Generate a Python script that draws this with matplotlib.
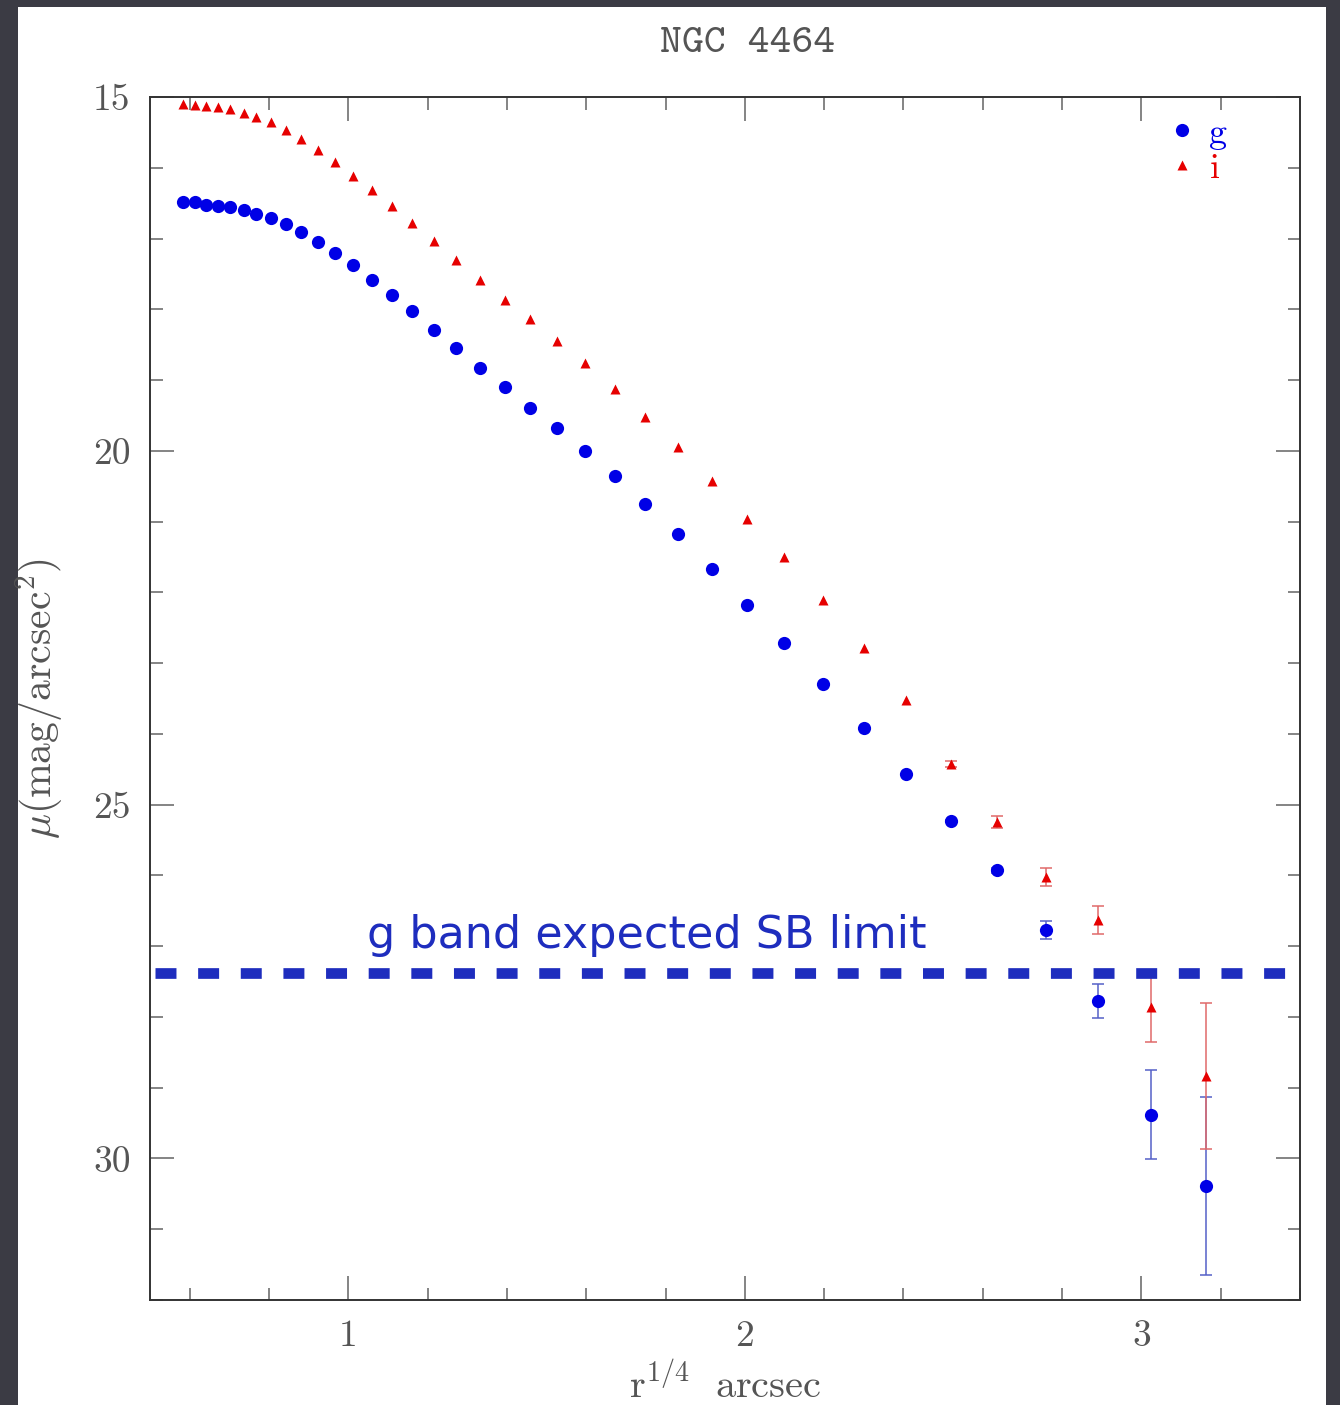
import matplotlib
matplotlib.use("Agg")
import matplotlib.pyplot as plt
from matplotlib.patches import Rectangle
from matplotlib.ticker import MultipleLocator

nan = float('nan')

# r^(1/4) radii (arcsec) shared by both bands
r14 = [0.584, 0.613, 0.642, 0.671, 0.701, 0.737, 0.768, 0.806, 0.843, 0.882,
       0.923, 0.967, 1.013, 1.060, 1.109, 1.161, 1.215, 1.272, 1.331, 1.394,
       1.459, 1.526, 1.597, 1.672, 1.747, 1.831, 1.917, 2.005, 2.098, 2.197,
       2.301, 2.407, 2.520, 2.636, 2.760, 2.891, 3.023, 3.164]

# g band surface brightness + errors (inner errors too small to see -> nan)
mu_g = [16.49, 16.49, 16.52, 16.54, 16.56, 16.60, 16.65, 16.71, 16.80, 16.91,
        17.05, 17.21, 17.38, 17.58, 17.80, 18.03, 18.29, 18.54, 18.83, 19.10,
        19.39, 19.68, 20.00, 20.36, 20.75, 21.18, 21.67, 22.18, 22.72, 23.30,
        23.92, 24.56, 25.23, 25.93, 26.77, 27.78, 29.38, 30.39]
err_g = [nan] * 32 + [0.02, 0.04, 0.13, 0.24, 0.63, 1.26]

# i band surface brightness + errors
mu_i = [15.10, 15.11, 15.13, 15.14, 15.17, 15.22, 15.28, 15.36, 15.47, 15.60,
        15.75, 15.92, 16.11, 16.31, 16.54, 16.78, 17.04, 17.30, 17.58, 17.87,
        18.14, 18.45, 18.76, 19.12, 19.52, 19.95, 20.43, 20.97, 21.50, 22.11,
        22.79, 23.52, 24.43, 25.24, 26.02, 26.63, 27.86, 28.83]
err_i = [nan] * 32 + [0.04, 0.085, 0.13, 0.20, 0.49, 1.03]

sb_limit = 27.38

plt.rcParams['mathtext.fontset'] = 'cm'
plt.rcParams['lines.scale_dashes'] = False
plt.rcParams['axes.formatter.use_mathtext'] = False

fig = plt.figure(figsize=(13.4, 14.05), dpi=100, facecolor='#3b3b44')
# white panel over the dark frame
fig.patches.append(Rectangle((18 / 1340, 0), 1308 / 1340, 1398 / 1405,
                             transform=fig.transFigure, facecolor='white',
                             edgecolor='none', zorder=-5))

ax = fig.add_axes([150 / 1340, 1 - 1300 / 1405, 1150 / 1340, 1203 / 1405])
ax.set_zorder(1)

blue = '#0000e6'
red = '#e60000'

ax.errorbar(r14, mu_g, yerr=err_g, fmt='none', ecolor='#5560c8', elinewidth=1.1,
            capsize=4.5, capthick=1.1, zorder=2)
ax.errorbar(r14, mu_i, yerr=err_i, fmt='none', ecolor='#e06a6a', elinewidth=1.1,
            capsize=4.5, capthick=1.1, zorder=2)
ax.plot(r14, mu_g, 'o', color=blue, ms=9.5, mec='none', label='g', zorder=3)
ax.plot(r14, mu_i, '^', color=red, ms=7.5, mec='none', label='i', zorder=3)

# expected SB limit
ax.axhline(sb_limit, xmin=5 / 1150, xmax=1137 / 1150, color='#1e2dbe', lw=7.7,
           dashes=(15.1, 15.6), dash_capstyle='butt', zorder=4)
ax.text(1.048, 27.03, 'g band expected SB limit', color='#1e2dbe',
        fontsize=32, family='DejaVu Sans', ha='left', va='baseline', zorder=5)

ax.set_xlim(0.5, 3.4)
ax.set_ylim(32, 15)
ax.xaxis.set_major_locator(MultipleLocator(1))
ax.xaxis.set_minor_locator(MultipleLocator(0.2))
ax.yaxis.set_major_locator(MultipleLocator(5))
ax.yaxis.set_minor_locator(MultipleLocator(1))
ax.tick_params(which='both', direction='in', top=True, right=True,
               color='#707070', width=1.2)
ax.tick_params(which='major', length=17, labelsize=27, labelcolor='#555555', pad=14)
ax.tick_params(which='minor', length=9)
for lab in ax.get_xticklabels() + ax.get_yticklabels():
    lab.set_family('cmr10')
for s in ax.spines.values():
    s.set_linewidth(1.4)
    s.set_color('#333333')

ax.set_xlabel(r'$\mathrm{r^{1/4}\ \ arcsec}$', fontsize=29, color='#555555', labelpad=8)
ax.set_ylabel(r'$\mu(\mathrm{mag/arcsec^2})$', fontsize=30, color='#555555', labelpad=20)

fig.text(748 / 1340, 1 - 44 / 1405, 'NGC 4464', family='cmtt10', fontsize=30,
         color='#555555', ha='center', va='center')

leg = ax.legend(loc='upper right', bbox_to_anchor=(1110 / 1150, 1.01),
                frameon=False, numpoints=1, handlelength=0.8, handletextpad=0.35,
                labelspacing=0.08, prop={'family': 'cmr10', 'size': 26},
                labelcolor='markerfacecolor')

fig.savefig('out.png', dpi=100, facecolor=fig.get_facecolor())
